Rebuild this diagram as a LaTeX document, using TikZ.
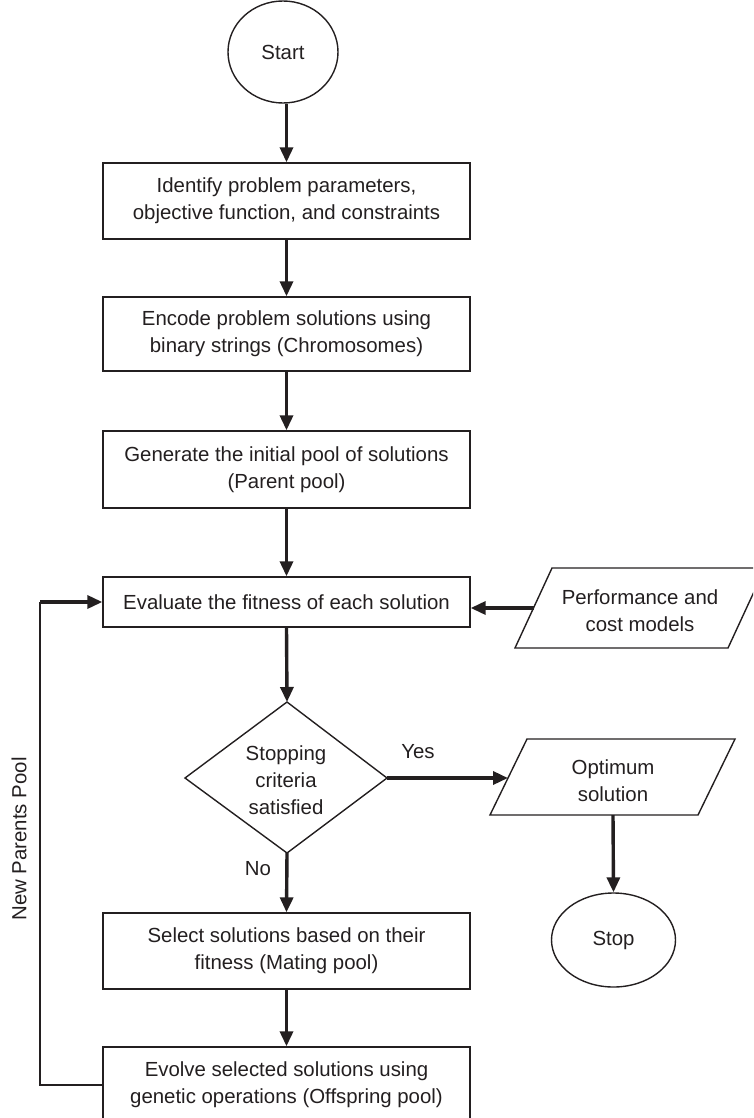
\documentclass[tikz,border=0pt]{standalone}
\usepackage{fontspec}
\setmainfont{Liberation Sans}
\usetikzlibrary{arrows.meta,shapes.geometric}
\definecolor{ink}{HTML}{231F20}
\begin{document}
\begin{tikzpicture}[x=1pt,y=-1pt,
  every node/.style={font=\fontsize{20.4}{27}\selectfont, align=center, text=ink},
  box/.style={draw=ink, line width=1.4pt, minimum width=367pt, minimum height=76pt, inner sep=0pt},
  term/.style={draw=ink, line width=1.4pt, ellipse, inner sep=0pt},
  thinline/.style={draw=ink, line width=1.4pt},
  flow/.style={draw=ink, line width=3.4pt, -{Triangle[length=15pt,width=13pt]}},
]
\useasboundingbox (0,0) rectangle (753,1118);
\clip (0,0) rectangle (753,1118);

% terminals
\node[term, minimum width=110pt, minimum height=102pt] (start) at (283,52) {Start};
\node[term, minimum width=124pt, minimum height=94pt] (stop) at (613.5,940) {Stop};

% process boxes
\node[box] (b1) at (286.5,201) {Identify problem parameters,\\objective function, and constraints};
\node[box, minimum height=74pt] (b2) at (286.5,334) {Encode problem solutions using\\binary strings (Chromosomes)};
\node[box, minimum height=77pt] (b3) at (286.5,469.5) {Generate the initial pool of solutions\\(Parent pool)};
\node[box, minimum height=50pt] (b4) at (286.5,602) {Evaluate the fitness of each solution};
\node[box] (b5) at (286.5,951) {Select solutions based on their\\fitness (Mating pool)};
\node[box] (b6) at (286.5,1085) {Evolve selected solutions using\\genetic operations (Offspring pool)};

% decision diamond
\coordinate (dtop) at (287,702);
\coordinate (dright) at (387,778);
\coordinate (dbot) at (287,853);
\coordinate (dleft) at (185,778);
\draw[thinline] (dtop) -- (dright) -- (dbot) -- (dleft) -- cycle;
\node (dec) at (286,780) {Stopping\\criteria\\satisfied};

% input parallelogram
\coordinate (p1) at (552,568);
\coordinate (p2) at (765,568);
\coordinate (p3) at (728,648);
\coordinate (p4) at (515,648);
\draw[thinline] (p1) -- (p2) -- (p3) -- (p4) -- cycle;
\node (perf) at (640,610.5) {Performance and\\cost models};
\coordinate (pleft) at (533.5,608);

% output parallelogram
\coordinate (o1) at (527,739);
\coordinate (o2) at (735,739);
\coordinate (o3) at (698,815);
\coordinate (o4) at (490,815);
\draw[thinline] (o1) -- (o2) -- (o3) -- (o4) -- cycle;
\node (opt) at (613,781) {Optimum\\solution};
\coordinate (oleft) at (508,778);
\coordinate (obot) at (613,815);

% main flow
\draw[flow] (start.south -| b1.north) -- (b1.north);
\draw[flow] (b1.south) -- (b2.north);
\draw[flow] (b2.south) -- (b3.north);
\draw[flow] (b3.south) -- (b4.north);
\draw[flow] (b4.south) -- (dtop);
\draw[flow] (dright) -- (oleft);
\draw[flow] (obot) -- (stop.north);
\draw[flow] (dbot) -- (b5.north);
\draw[flow] (b5.south) -- (b6.north);
\draw[flow] (pleft) -- (pleft -| b4.east);

% feedback loop
\coordinate (fb1) at (40,1085);
\coordinate (fb2) at (40,602);
\draw[thinline] (b6.west) -- (fb1) -- (fb2);
\draw[flow] (fb2) -- (b4.west);

% labels
\node (yes) at (418,752) {Yes};
\node (no) at (258,869) {No};
\node[rotate=90] (npp) at (19,839) {New Parents Pool};
\end{tikzpicture}
\end{document}
